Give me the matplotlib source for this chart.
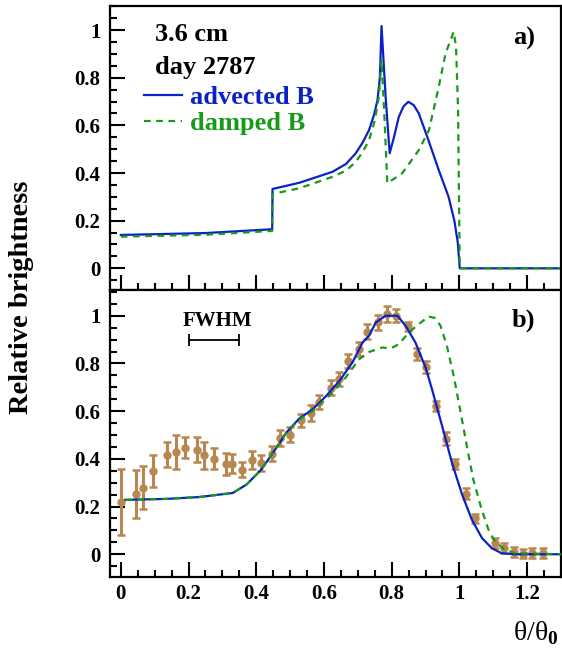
import numpy as np
import matplotlib
matplotlib.use('Agg')
import matplotlib.pyplot as plt
from matplotlib.ticker import MultipleLocator, FixedLocator

plt.rcParams['font.family'] = ['Liberation Serif', 'DejaVu Serif']
plt.rcParams['font.weight'] = 'bold'
plt.rcParams['mathtext.fontset'] = 'custom'
plt.rcParams['mathtext.rm'] = 'Liberation Serif:bold'

BLUE = '#0a22c4'
GREEN = '#17991a'
BROWN = '#b8874f'

# panel a) model profiles (unconvolved)
adv_x = [0.0, 0.25, 0.447, 0.448, 0.527, 0.625, 0.665, 0.694, 0.715, 0.733,
         0.748, 0.758, 0.765, 0.770, 0.782, 0.794, 0.807, 0.821, 0.835, 0.849,
         0.865, 0.880, 0.905, 0.939, 0.968, 0.985, 0.995, 1.001, 1.3]
adv_y = [0.14, 0.148, 0.164, 0.333, 0.359, 0.405, 0.438, 0.483, 0.53, 0.58,
         0.645, 0.706, 0.80, 1.017, 0.72, 0.483, 0.552, 0.636, 0.68, 0.699,
         0.685, 0.65, 0.552, 0.412, 0.30, 0.20, 0.11, 0.0, 0.0]

dmp_x = [0.0, 0.25, 0.447, 0.448, 0.527, 0.625, 0.665, 0.694, 0.715, 0.733,
         0.750, 0.762, 0.770, 0.779, 0.787, 0.831, 0.880, 0.910, 0.939, 0.959,
         0.974, 0.983, 0.990, 0.996, 1.001, 1.3]
dmp_y = [0.133, 0.141, 0.157, 0.312, 0.336, 0.384, 0.41, 0.447, 0.49, 0.538,
         0.62, 0.72, 0.874, 0.62, 0.357, 0.399, 0.496, 0.58, 0.762, 0.902,
         0.958, 0.993, 0.93, 0.664, 0.0, 0.0]

# panel b) convolved models
advc_x = [0.013, 0.135, 0.233, 0.331, 0.371, 0.415, 0.449, 0.469, 0.488, 0.527,
          0.566, 0.606, 0.645, 0.684, 0.714, 0.733, 0.753, 0.782, 0.817, 0.841,
          0.870, 0.900, 0.919, 0.949, 0.978, 1.008, 1.037, 1.067, 1.096, 1.125,
          1.165, 1.3]
advc_y = [0.228, 0.232, 0.24, 0.257, 0.292, 0.355, 0.425, 0.467, 0.509, 0.569,
          0.607, 0.663, 0.726, 0.804, 0.888, 0.916, 0.972, 1.0, 1.0, 0.958,
          0.888, 0.783, 0.692, 0.537, 0.383, 0.25, 0.144, 0.067, 0.025, 0.004,
          0.0, 0.0]

dmpc_x = [0.013, 0.135, 0.233, 0.331, 0.371, 0.415, 0.449, 0.469, 0.488, 0.527,
          0.566, 0.625, 0.664, 0.704, 0.733, 0.772, 0.797, 0.821, 0.851, 0.880,
          0.909, 0.929, 0.944, 0.963, 0.983, 1.002, 1.022, 1.041, 1.066, 1.086,
          1.105, 1.135, 1.165, 1.3]
dmpc_y = [0.228, 0.232, 0.24, 0.257, 0.292, 0.355, 0.425, 0.467, 0.509, 0.565,
          0.600, 0.678, 0.741, 0.818, 0.848, 0.867, 0.863, 0.881, 0.930, 0.965,
          0.997, 0.99, 0.958, 0.874, 0.748, 0.607, 0.453, 0.313, 0.186, 0.102,
          0.053, 0.018, 0.004, 0.0]

# observed profile
obs_x = [0.0, 0.045, 0.064, 0.096, 0.135, 0.162, 0.189, 0.225, 0.245, 0.274,
         0.310, 0.329, 0.359, 0.386, 0.413, 0.445, 0.471, 0.501, 0.532, 0.562,
         0.586, 0.620, 0.643, 0.672, 0.702, 0.728, 0.760, 0.787, 0.814, 0.849,
         0.876, 0.900, 0.931, 0.959, 0.988, 1.019, 1.047, 1.104, 1.131, 1.162,
         1.187, 1.214, 1.246]
obs_y = [0.219, 0.252, 0.279, 0.35, 0.418, 0.428, 0.447, 0.439, 0.414, 0.401,
         0.379, 0.379, 0.355, 0.396, 0.381, 0.422, 0.488, 0.502, 0.561, 0.593,
         0.638, 0.699, 0.736, 0.811, 0.86, 0.933, 0.972, 1.007, 1.0, 0.955,
         0.839, 0.787, 0.621, 0.484, 0.379, 0.254, 0.15, 0.046, 0.027, 0.01,
         0.003, 0.005, 0.005]
obs_err = [0.137, 0.10, 0.09, 0.066, 0.053, 0.072, 0.043, 0.053, 0.056, 0.043,
           0.047, 0.04, 0.03, 0.037, 0.033, 0.03, 0.035, 0.033, 0.028, 0.033,
           0.028, 0.032, 0.03, 0.03, 0.03, 0.032, 0.033, 0.032, 0.027, 0.02,
           0.026, 0.025, 0.021, 0.027, 0.02, 0.022, 0.02, 0.02, 0.02, 0.02,
           0.02, 0.02, 0.02]

fwhm = [0.2, 0.35]

W, H = 562, 651
fig = plt.figure(figsize=(W / 100, H / 100), dpi=100)
ax1 = fig.add_axes([110 / W, 1 - 290 / H, 451 / W, 284 / H])
ax2 = fig.add_axes([110 / W, 1 - 577 / H, 451 / W, 287 / H])

for ax in (ax1, ax2):
    ax.set_xlim(-0.032, 1.3)
    ax.xaxis.set_major_locator(FixedLocator([0, 0.2, 0.4, 0.6, 0.8, 1.0, 1.2]))
    ax.xaxis.set_minor_locator(MultipleLocator(0.05))
    ax.yaxis.set_major_locator(FixedLocator([0, 0.2, 0.4, 0.6, 0.8, 1.0]))
    ax.yaxis.set_minor_locator(MultipleLocator(0.05))
    ax.tick_params(which='both', direction='in', width=1.5, top=False, right=False)
    ax.tick_params(which='major', length=10.5, labelsize=15, pad=7)
    ax.tick_params(which='minor', length=5)
    for s in ax.spines.values():
        s.set_linewidth(1.6)
    ax.set_yticklabels(['0', '0.2', '0.4', '0.6', '0.8', '1'])

ax1.set_ylim(-0.091, 1.101)
ax2.set_ylim(-0.0955, 1.108)
ax1.tick_params(labelbottom=False)
ax2.set_xticklabels(['0', '0.2', '0.4', '0.6', '0.8', '1', '1.2'])
ax2.tick_params(axis='x', pad=5)

ax1.plot(adv_x, adv_y, color=BLUE, lw=1.6, label='advected B')
ax1.plot(dmp_x, dmp_y, color=GREEN, lw=1.6, ls=(0, (3, 2.5)), label='damped B')
ax1.legend(loc='upper left', bbox_to_anchor=(0.075, 0.72), frameon=False,
           prop={'family': 'Liberation Serif', 'weight': 'bold', 'size': 19},
           labelcolor='linecolor', handlelength=1.45, handletextpad=0.3,
           labelspacing=0.1, borderaxespad=0, borderpad=0)
ax1.text(0.1, 0.898, '3.6 cm', transform=ax1.transAxes, fontsize=19, va='center', ha='left')
ax1.text(0.1, 0.785, 'day 2787', transform=ax1.transAxes, fontsize=19, va='center', ha='left')
ax1.text(0.942, 0.887, 'a)', transform=ax1.transAxes, fontsize=19, va='center', ha='right')

ax2.errorbar(obs_x, obs_y, yerr=obs_err, fmt='o', color=BROWN, ms=5, elinewidth=2.2,
             capsize=3, capthick=1.8, zorder=2)
ax2.plot(advc_x, advc_y, color=BLUE, lw=1.6, zorder=3)
ax2.plot(dmpc_x, dmpc_y, color=GREEN, lw=1.6, ls=(0, (3, 2.5)), zorder=3)
ax2.errorbar([np.mean(fwhm)], [0.899], xerr=[(fwhm[1] - fwhm[0]) / 2], fmt='none',
             ecolor='black', elinewidth=1.3, capsize=4, capthick=1.3)
ax2.text(np.mean(fwhm) + 0.011, 0.979, 'FWHM', fontsize=15, ha='center', va='center')
ax2.text(0.942, 0.893, 'b)', transform=ax2.transAxes, fontsize=19, va='center', ha='right')

fig.text(22 / W, 1 - 297 / H, 'Relative brightness', rotation=90, fontsize=20.5,
         ha='center', va='center')
fig.text(559 / W, 1 - 640 / H, r'θ/θ$_\mathrm{0}$', fontsize=20, ha='right', va='baseline',
         fontweight='normal')

fig.savefig('out.png', dpi=100)
